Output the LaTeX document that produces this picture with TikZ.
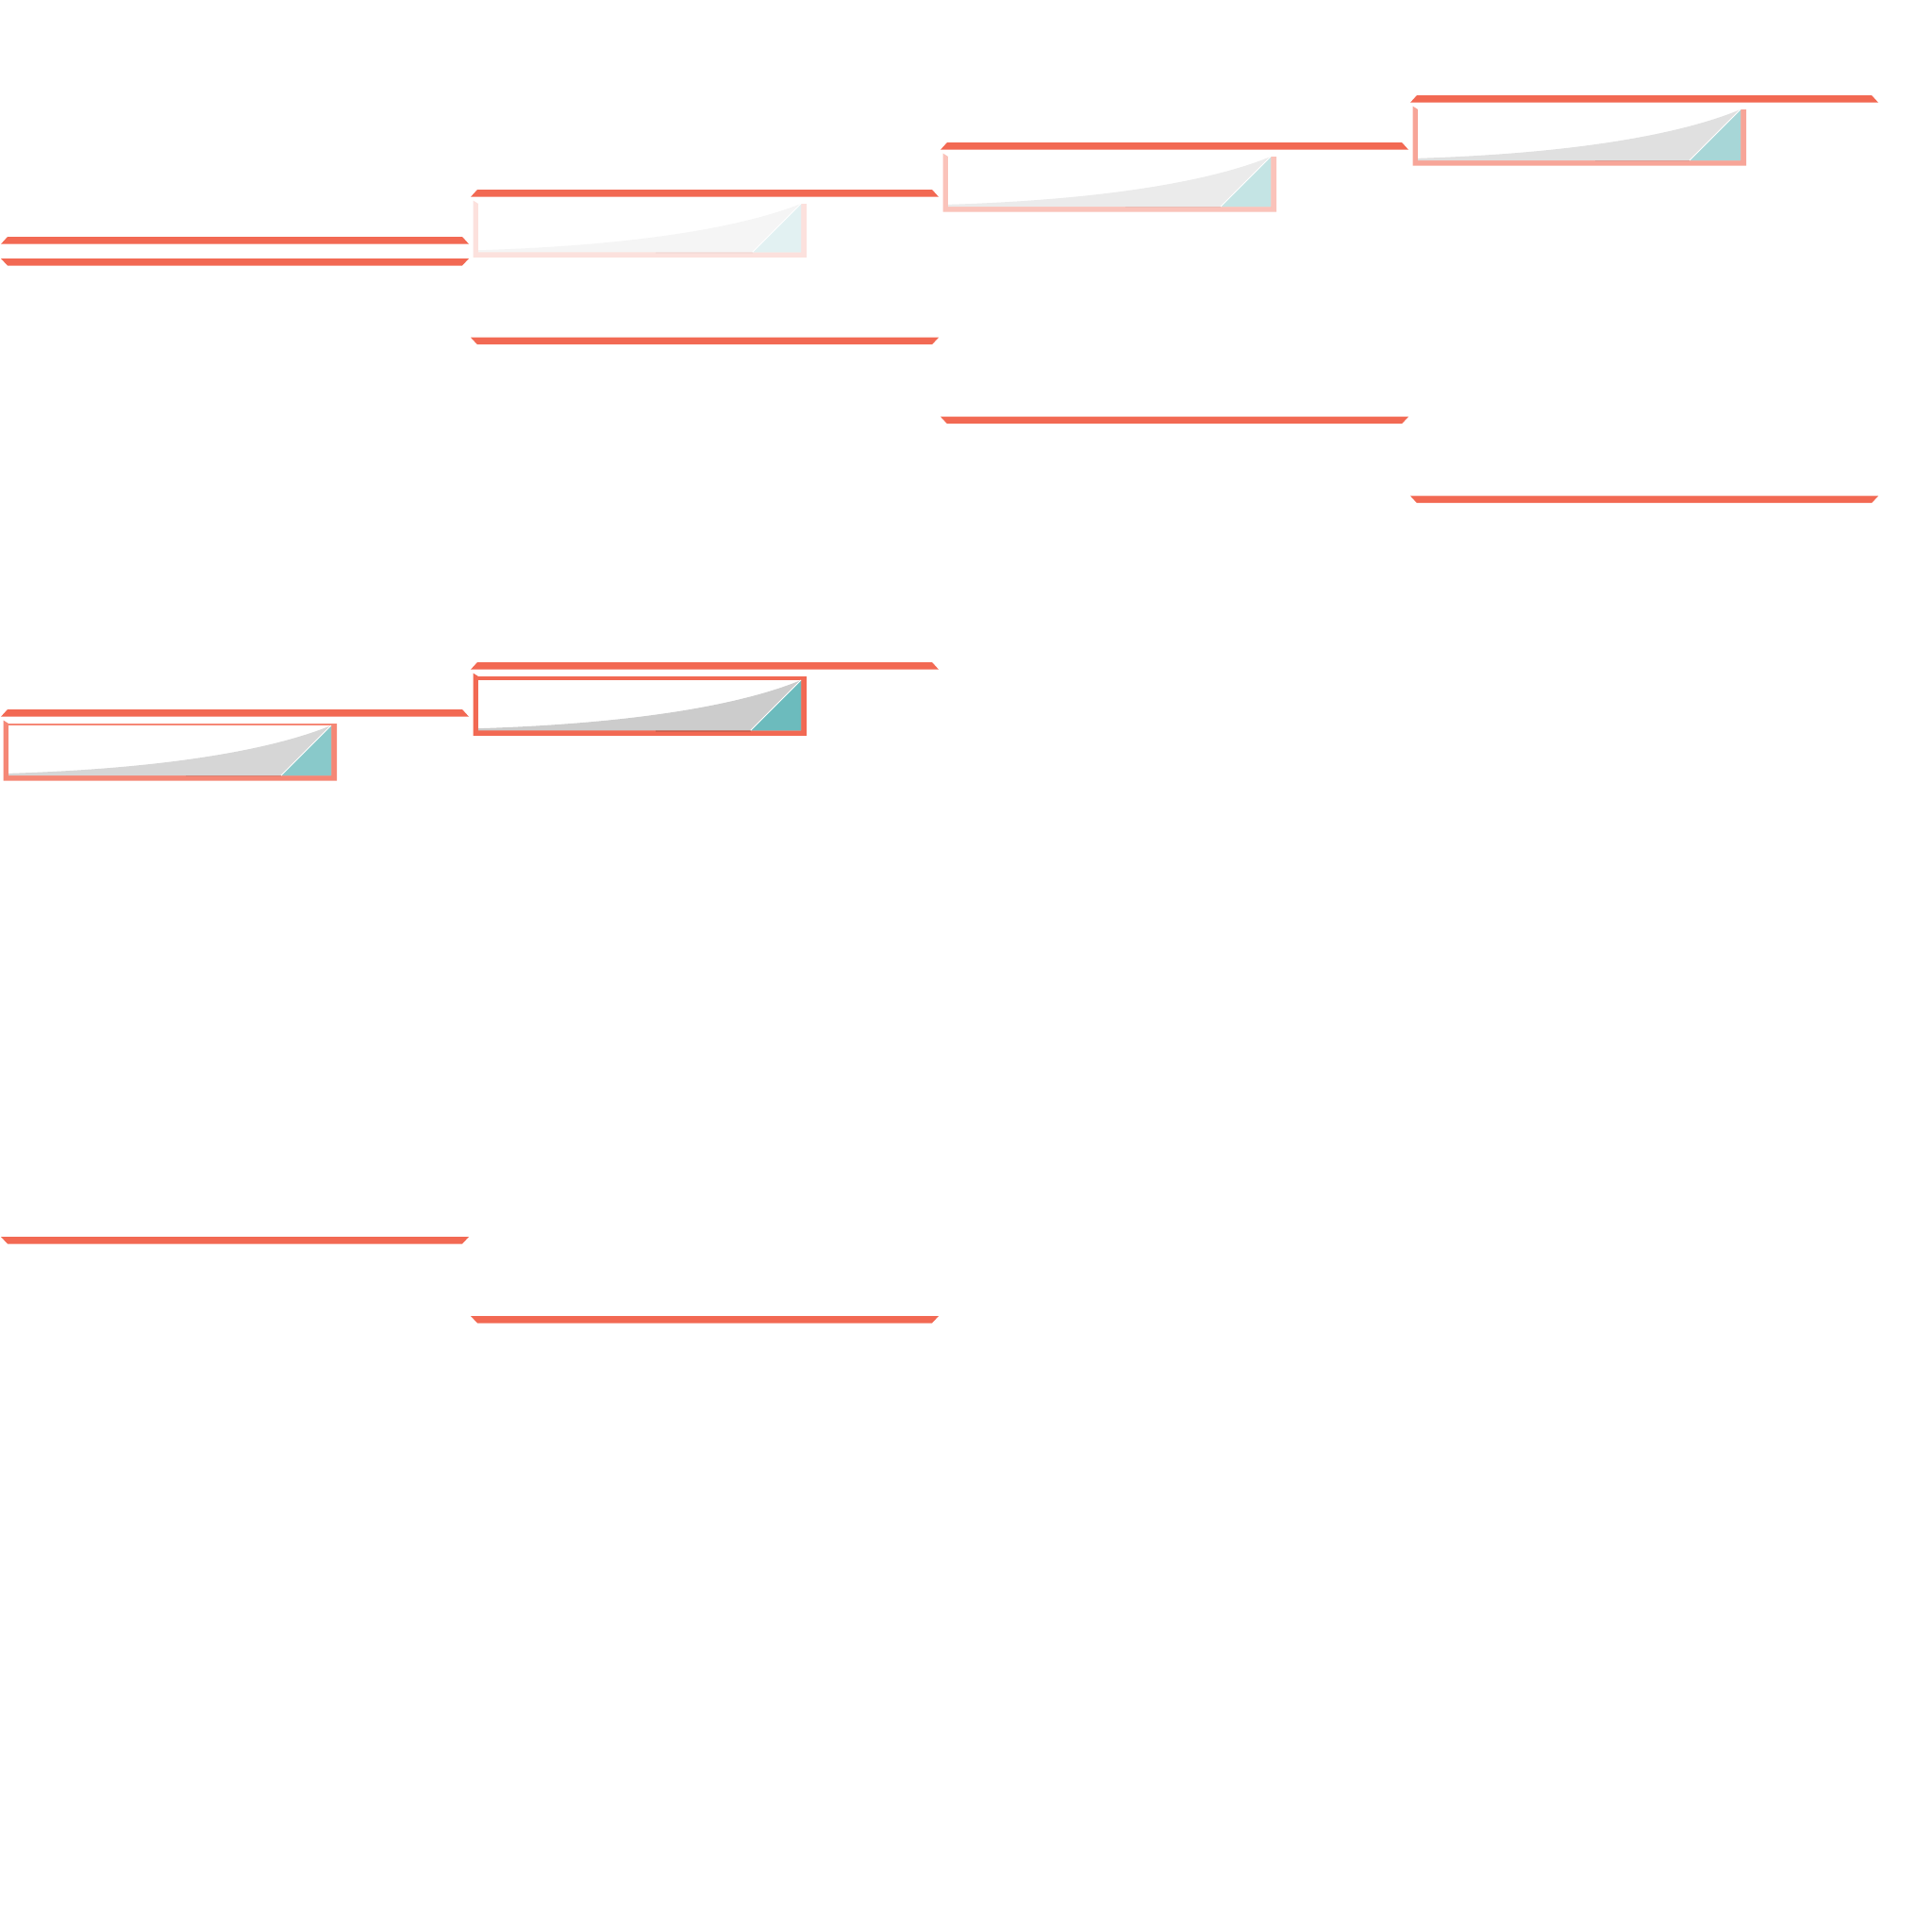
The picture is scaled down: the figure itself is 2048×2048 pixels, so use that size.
\documentclass[tikz,border=0pt]{standalone}
\usepackage{tikz}
\definecolor{barc}{RGB}{242,105,83}
\definecolor{greyc}{RGB}{204,204,204}
\definecolor{tealc}{RGB}{108,187,189}
\tikzset{barfill/.style={fill=barc}, sepline/.style={white,line width=1}}
\newcommand\drawtopbar[2]{\fill[barfill] (#1,#2+7.7) -- (#1+7,#2) -- (#1+489,#2) -- (#1+496,#2+7.7) -- cycle;}
\newcommand\drawbotbar[2]{\fill[barfill] (#1,#2) -- (#1+496,#2) -- (#1+489,#2+7.5) -- (#1+7,#2+7.5) -- cycle;}
\newcommand\drawchart[5]{%
 \pgfmathsetmacro\rsL{#1+8}%
 \pgfmathsetmacro\rsR{#1+350}%
 \pgfmathsetmacro\rsT{#2+15+#5}%
 \pgfmathsetmacro\rsB{#2+#4}%
 \pgfmathsetmacro\rsH{\rsB-\rsT}%
 \pgfmathsetmacro\rsW{\rsR-\rsL}%
 \fill[fill=barc!#3!white] (#1+2.5,#2+11.5) -- (#1+8,#2+15) -- (#1+356,#2+15) -- (#1+356,\rsB+5.5) -- (#1+2.5,\rsB+5.5) -- cycle;
 \fill[white] (\rsL,\rsT) rectangle (\rsR,\rsB);
 \fill[greyc!#3!white] (\rsL,\rsB-0.04*\rsH) .. controls (\rsL+0.55*\rsW,\rsB-0.15*\rsH) and (\rsL+0.85*\rsW,\rsB-0.6*\rsH) .. (\rsR,\rsT) -- (\rsR,\rsB) -- (\rsL,\rsB) -- cycle;
 \fill[tealc!#3!white] (\rsR-\rsH,\rsB) -- (\rsR,\rsT) -- (\rsR,\rsB) -- cycle;
 \draw[sepline] (\rsR-\rsH,\rsB) -- (\rsR,\rsT);
 \draw[black,opacity=0.12*#3/100,line width=1.2] (\rsL+0.55*\rsW,\rsB+0.7) -- (\rsR-\rsH,\rsB+0.7);
}
\begin{document}
\begin{tikzpicture}[x=1pt,y=-1pt]
\useasboundingbox[fill=white] (0,0) rectangle (2048,2048);
% column 1, group 1
\drawtopbar{1}{251}
\drawbotbar{1}{274}
% column 2, group 1
\drawtopbar{499}{201}
\drawchart{499}{201}{20}{66.3}{0}
\drawbotbar{499}{357.7}
% column 3
\drawtopbar{997}{151}
\drawchart{997}{151}{40}{68}{0}
\drawbotbar{997}{441.7}
% column 4
\drawtopbar{1495}{101}
\drawchart{1495}{101}{60}{69}{0}
\drawbotbar{1495}{525.7}
% column 1, group 2
\drawtopbar{1}{752}
\drawchart{1}{752}{80}{70}{2}
\drawbotbar{1}{1311}
% column 2, group 2
\drawtopbar{499}{702}
\drawchart{499}{702}{100}{72.3}{4}
\drawbotbar{499}{1395}
\end{tikzpicture}
\end{document}
